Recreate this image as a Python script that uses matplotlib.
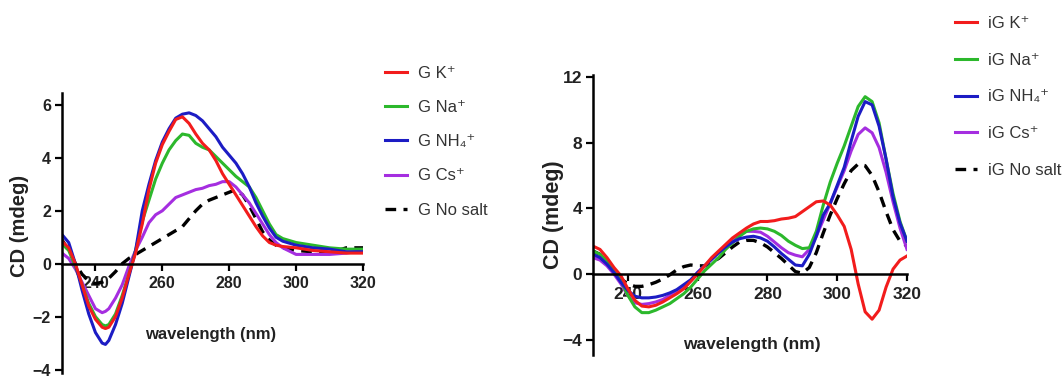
import numpy as np
import matplotlib
matplotlib.use("Agg")
import matplotlib.pyplot as plt

plt.rcParams['font.family'] = ['Liberation Sans', 'DejaVu Sans']

# ---- left panel: G ----
wl_g = [230, 232, 234, 236, 238, 240, 242, 243, 244, 246, 248, 250, 252, 254, 256, 258,
        260, 262, 264, 266, 268, 270, 272, 274, 276, 278, 280, 282, 284, 286, 288, 290,
        292, 294, 296, 300, 305, 310, 315, 320]
g_k = [0.85, 0.6, 0.0, -0.8, -1.6, -2.1, -2.4, -2.45, -2.4, -2.0, -1.3, -0.4, 0.4, 1.5, 2.8, 3.8,
       4.5, 5.0, 5.45, 5.55, 5.3, 4.9, 4.55, 4.3, 3.9, 3.4, 3.0, 2.6, 2.2, 1.8, 1.4, 1.05,
       0.8, 0.7, 0.65, 0.6, 0.5, 0.45, 0.4, 0.4]
g_na = [0.75, 0.5, -0.1, -0.8, -1.5, -2.0, -2.3, -2.35, -2.3, -1.9, -1.2, -0.4, 0.5, 1.6, 2.4, 3.2,
        3.8, 4.3, 4.65, 4.9, 4.85, 4.55, 4.4, 4.3, 4.05, 3.8, 3.55, 3.3, 3.1, 2.9, 2.5, 2.0,
        1.5, 1.1, 0.95, 0.8, 0.7, 0.6, 0.55, 0.55]
g_nh4 = [1.1, 0.8, 0.0, -1.0, -1.9, -2.6, -3.0, -3.05, -2.9, -2.3, -1.5, -0.5, 0.5, 2.0, 3.0, 3.9,
         4.6, 5.1, 5.5, 5.65, 5.7, 5.6, 5.4, 5.1, 4.8, 4.4, 4.1, 3.8, 3.4, 2.9, 2.3, 1.8,
         1.35, 1.0, 0.85, 0.7, 0.6, 0.55, 0.45, 0.45]
g_cs = [0.4, 0.2, -0.2, -0.7, -1.2, -1.7, -1.85, -1.8, -1.7, -1.3, -0.8, -0.1, 0.5, 1.0, 1.55, 1.85,
        2.0, 2.25, 2.5, 2.6, 2.7, 2.8, 2.85, 2.95, 3.0, 3.1, 3.1, 2.9, 2.6, 2.3, 1.9, 1.5,
        1.1, 0.8, 0.6, 0.35, 0.35, 0.35, 0.4, 0.5]
g_none = [0.9, 0.5, 0.0, -0.4, -0.65, -0.75, -0.7, -0.65, -0.55, -0.3, 0.0, 0.2, 0.35, 0.5, 0.65, 0.8,
          0.95, 1.1, 1.25, 1.4, 1.7, 2.0, 2.25, 2.4, 2.5, 2.6, 2.7, 2.8, 2.6, 2.2, 1.7, 1.2,
          0.9, 0.7, 0.6, 0.5, 0.45, 0.4, 0.6, 0.6]

# ---- right panel: iG ----
wl_ig = list(range(230, 321, 2))
ig_k = [1.7, 1.5, 1.0, 0.4, -0.1, -0.9, -1.6, -1.95, -2.0, -1.9, -1.7, -1.45, -1.2, -0.9, -0.45, 0.0,
        0.5, 1.0, 1.4, 1.8, 2.2, 2.5, 2.8, 3.05, 3.2, 3.2, 3.25, 3.35, 3.4, 3.5, 3.8, 4.1,
        4.4, 4.45, 4.2, 3.6, 2.9, 1.5, -0.6, -2.3, -2.75, -2.2, -0.8, 0.3, 0.85, 1.1]
ig_na = [1.4, 1.2, 0.8, 0.3, -0.4, -1.3, -2.0, -2.35, -2.35, -2.2, -2.0, -1.8, -1.5, -1.2, -0.8, -0.3,
         0.2, 0.6, 1.0, 1.5, 1.9, 2.3, 2.6, 2.75, 2.8, 2.75, 2.6, 2.35, 2.0, 1.75, 1.55, 1.6,
         2.6, 4.2, 5.6, 6.75, 7.8, 9.0, 10.2, 10.8, 10.5, 9.2, 7.0, 4.9, 3.2, 2.0]
ig_nh4 = [1.2, 1.0, 0.6, 0.1, -0.5, -1.0, -1.35, -1.45, -1.45, -1.4, -1.3, -1.15, -0.95, -0.65, -0.35, 0.1,
          0.5, 0.9, 1.3, 1.65, 1.95, 2.15, 2.25, 2.3, 2.2, 2.0, 1.65, 1.25, 0.9, 0.55, 0.5, 1.2,
          2.3, 3.6, 4.3, 5.4, 6.5, 8.1, 9.6, 10.5, 10.3, 9.0, 7.0, 4.7, 3.1, 2.0]
ig_cs = [1.0, 0.85, 0.5, 0.0, -0.6, -1.3, -1.75, -1.85, -1.8, -1.7, -1.55, -1.3, -1.05, -0.7, -0.4, 0.1,
         0.5, 0.9, 1.3, 1.7, 2.1, 2.45, 2.6, 2.6, 2.55, 2.3, 1.95, 1.6, 1.3, 1.15, 1.05, 1.5,
         2.3, 3.3, 4.3, 5.3, 6.3, 7.5, 8.5, 8.9, 8.6, 7.7, 6.2, 4.4, 2.8, 1.5]
ig_none = [1.4, 1.2, 0.7, 0.2, -0.3, -0.6, -0.75, -0.75, -0.65, -0.5, -0.3, -0.05, 0.25, 0.45, 0.55, 0.5,
           0.5, 0.7, 0.95, 1.3, 1.65, 1.95, 2.05, 2.05, 1.9, 1.65, 1.3, 0.95, 0.55, 0.15, 0.05, 0.4,
           1.3, 2.5, 3.6, 4.6, 5.5, 6.3, 6.7, 6.6, 6.0, 5.0, 3.8, 2.7, 2.0, 1.7]

g_labels = ["G K\u207a", "G Na\u207a", "G NH\u2084\u207a", "G Cs\u207a", "G No salt"]
ig_labels = ["iG K\u207a", "iG Na\u207a", "iG NH\u2084\u207a", "iG Cs\u207a", "iG No salt"]
colors = ['#f21c1c', '#2cb82c', '#1c1cc4', '#a52ee0', 'black']

W, H = 1064, 377
fig = plt.figure(figsize=(W / 100, H / 100), dpi=100)

def panel(rect, ylim, yticks, wl, series, labels, tick_fs, ylab_fs, leg_anchor, leg_space, ylab_xy, xlab_xy, xlab_fs):
    ax = fig.add_axes(rect)
    order = [4, 3, 1, 2, 0]  # red drawn last, on top
    lines = {}
    for i in order:
        if i == 4:
            ln, = ax.plot(wl, series[i], color=colors[i], lw=2.4, ls=(0, (3.2, 2.2)), label=labels[i])
        else:
            ln, = ax.plot(wl, series[i], color=colors[i], lw=2.2, label=labels[i])
        lines[i] = ln
    ax.set_xlim(230, 320)
    ax.set_ylim(*ylim)
    ax.set_axisbelow(True)
    for s in ['top', 'right']:
        ax.spines[s].set_visible(False)
    ax.spines['bottom'].set_position(('data', 0))
    ax.spines['left'].set_linewidth(1.8)
    ax.spines['bottom'].set_linewidth(1.8)
    ax.set_xticks([240, 260, 280, 300, 320])
    ax.set_yticks(yticks)
    ax.tick_params(axis='both', direction='out', length=5, width=1.6, labelsize=tick_fs, pad=3)
    ax.tick_params(axis='x', pad=4)
    for t in ax.get_xticklabels() + ax.get_yticklabels():
        t.set_fontweight('bold')
        t.set_color('#222222')
    ax.patch.set_alpha(0)
    fig.text(ylab_xy[0] / W, 1 - ylab_xy[1] / H, "CD (mdeg)", rotation=90, ha='center', va='center',
             fontsize=ylab_fs, fontweight='bold', color='#222222')
    fig.text(xlab_xy[0] / W, 1 - xlab_xy[1] / H, "wavelength (nm)", ha='center', va='center',
             fontsize=xlab_fs, fontweight='bold', color='#222222')
    hs = [lines[i] for i in range(5)]
    fig.legend(hs, labels, loc='upper left', bbox_to_anchor=(leg_anchor[0] / W, 1 - leg_anchor[1] / H),
               frameon=False, fontsize=12, handlelength=1.3, handletextpad=0.7,
               labelspacing=leg_space, borderpad=0, borderaxespad=0, labelcolor='#333333')
    return ax

ax1 = panel([62 / W, 4 / H, 301 / W, 280 / H], (-4.13, 6.45), [-4, -2, 0, 2, 4, 6],
            wl_g, [g_k, g_na, g_nh4, g_cs, g_none], g_labels, 11.5, 14.5,
            (385, 66), 1.15, (20, 226), (211, 335), 12)
ax2 = panel([593 / W, 22 / H, 314 / W, 280 / H], (-4.93, 12.12), [-4, 0, 4, 8, 12],
            wl_ig, [ig_k, ig_na, ig_nh4, ig_cs, ig_none], ig_labels, 12.5, 15.5,
            (955, 16), 1.3, (554, 215), (752, 344), 12.5)

fig.savefig("out.png", dpi=100)
